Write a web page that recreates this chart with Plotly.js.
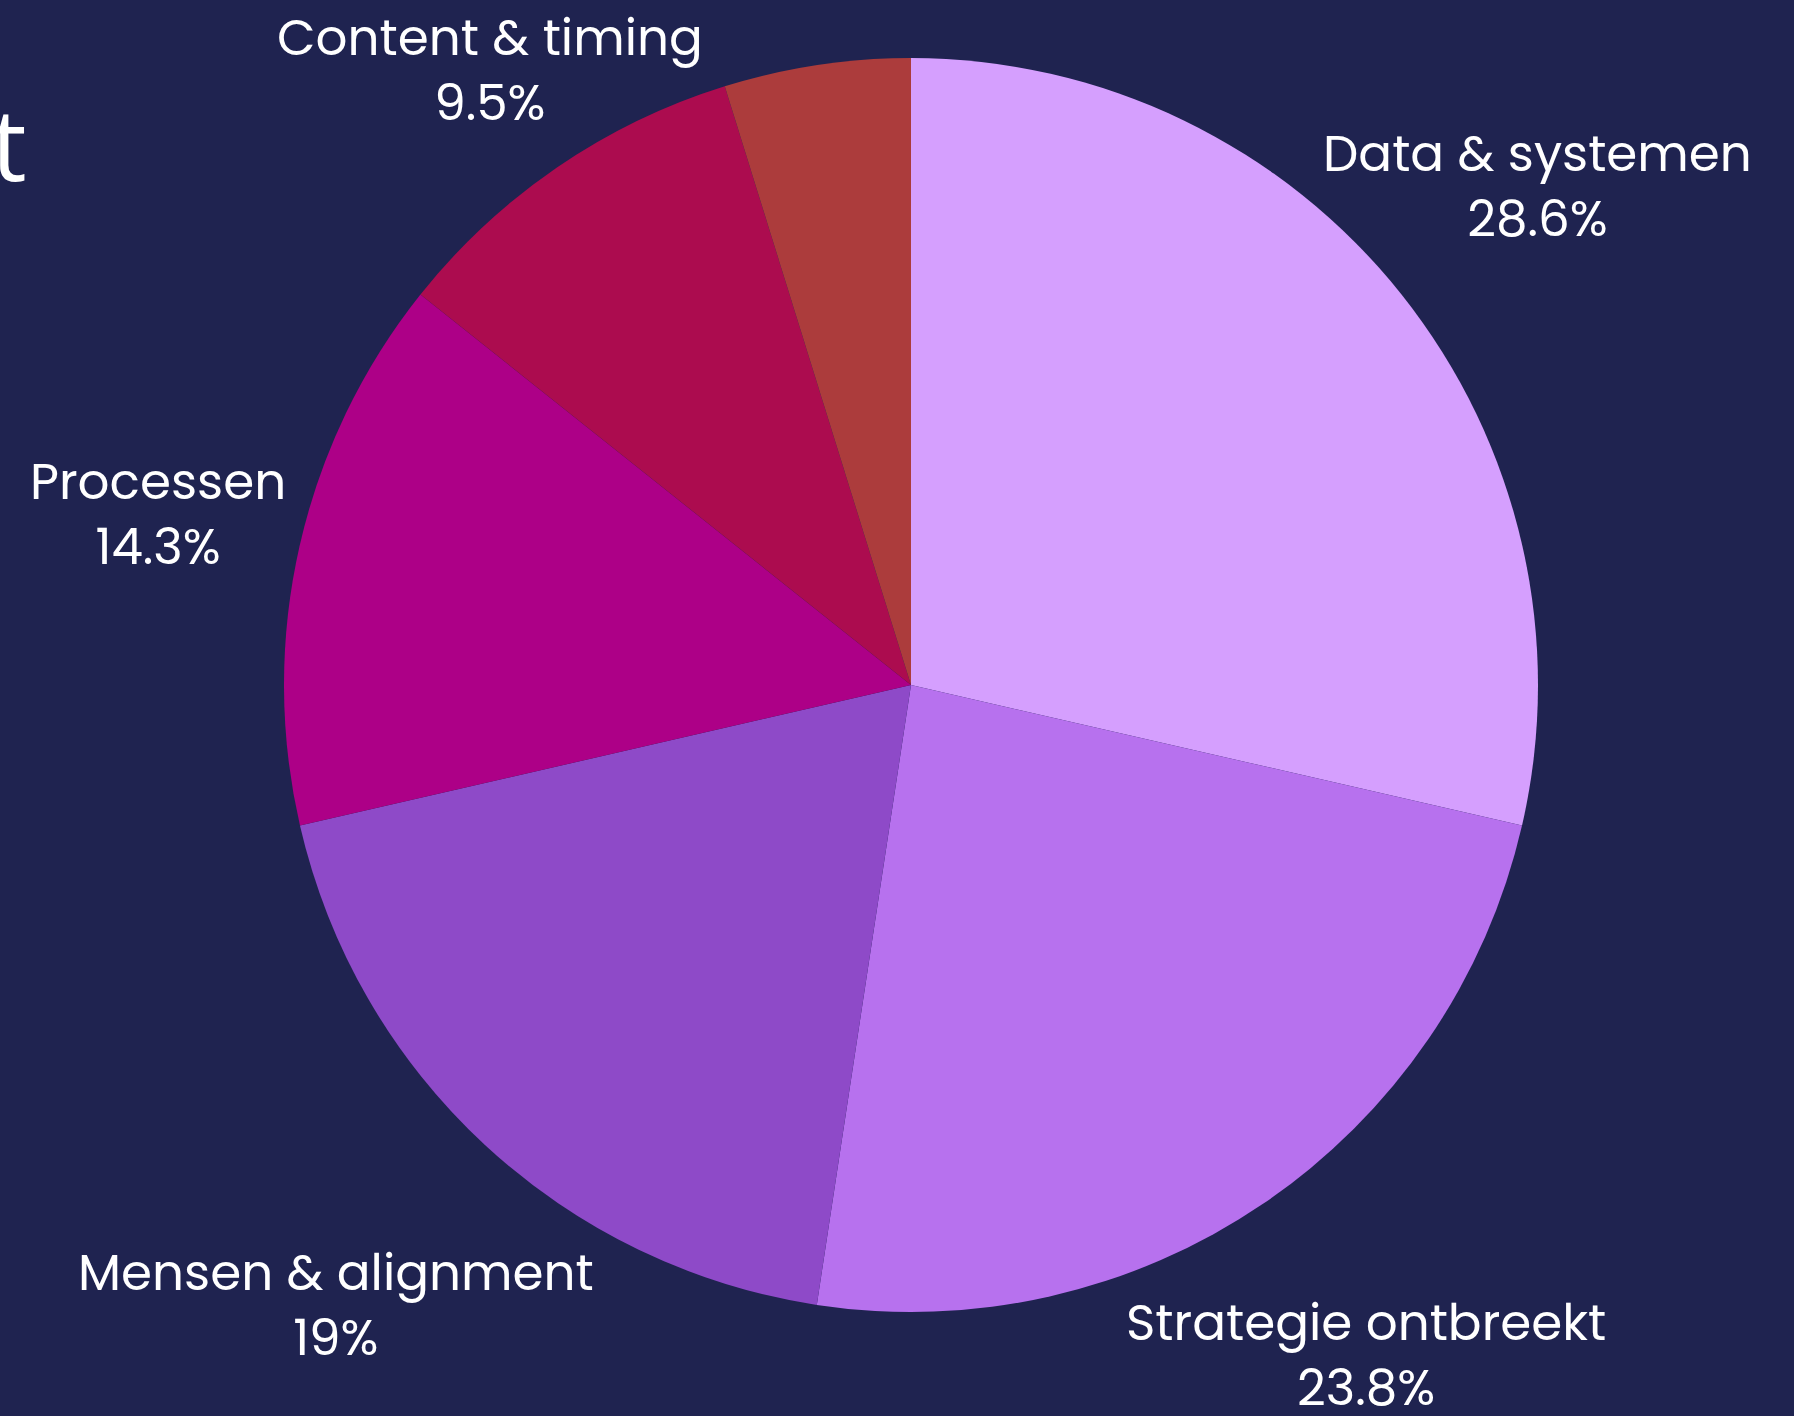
<!DOCTYPE html>
<html>
<head>
<meta charset="utf-8">
<script src="https://cdn.plot.ly/plotly-3.0.1.min.js"></script>
<style>
html,body{margin:0;padding:0;background:#1F2350;}
#chart{width:1794px;height:1416px;}
</style>
</head>
<body>
<div id="chart"></div>
<script>
const categories = ["Data & systemen", "Strategie ontbreekt", "Mensen & alignment", "Processen", "Content & timing", ""];
const values = [28.6, 23.8, 19, 14.3, 9.5, 4.8];
const sliceColors = ["#D59FFE", "#B771EE", "#8E4AC8", "#AD0087", "#AC0C4F", "#AC3C3C"];
const titleFragment = "t";

// label placement style: distance of each label from the pie centre, as a multiple of the radius
const labelDistance = [1.277, 1.292, 1.349, 1.232, 1.188, 1.2];

const W = 1794, H = 1416;
const margin = {l: 0, r: 0, t: 58, b: 104};
const domainX = [0.0156, 1];
const labelFont = {family: "Poppins, 'Open Sans', sans-serif", size: 50, color: "#FFFFFF"};

const trace = {
  type: "pie",
  labels: categories,
  values: values,
  sort: false,
  direction: "clockwise",
  rotation: 0,
  marker: {colors: sliceColors, line: {width: 0}},
  textinfo: "none",
  showlegend: false,
  hoverinfo: "label+percent",
  domain: {x: domainX, y: [0, 1]}
};

const plotW = W - margin.l - margin.r;
const plotH = H - margin.t - margin.b;
const cxPx = margin.l + plotW * (domainX[0] + domainX[1]) / 2;
const cyPx = margin.t + plotH / 2;
const R = Math.min(plotW * (domainX[1] - domainX[0]), plotH) / 2;
const total = values.reduce((a, b) => a + b, 0);
const annotations = [];
let cum = 0;
values.forEach((v, i) => {
  const mid = (cum + v / 2) / total * 2 * Math.PI;
  cum += v;
  if (!categories[i]) return;
  const d = labelDistance[i] * R;
  const px = cxPx + d * Math.sin(mid);
  const py = cyPx - d * Math.cos(mid);
  const pct = Math.round(v / total * 1000) / 10;
  annotations.push({
    text: categories[i] + "<br>" + pct + "%",
    xref: "paper", yref: "paper",
    x: (px - margin.l) / plotW,
    y: (H - margin.b - py) / plotH,
    xanchor: "center", yanchor: "middle",
    align: "center",
    showarrow: false,
    font: labelFont
  });
});

annotations.push({
  text: titleFragment,
  xref: "paper", yref: "paper",
  x: 29 / W, y: 0.933,
  xanchor: "right", yanchor: "middle",
  showarrow: false,
  font: {family: "'Open Sans', sans-serif", size: 100, color: "#FFFFFF"}
});

const layout = {
  width: W,
  height: H,
  paper_bgcolor: "#1F2350",
  plot_bgcolor: "#1F2350",
  margin: margin,
  showlegend: false,
  annotations: annotations
};

Plotly.newPlot("chart", [trace], layout, {displayModeBar: false, staticPlot: true});
</script>
</body>
</html>
